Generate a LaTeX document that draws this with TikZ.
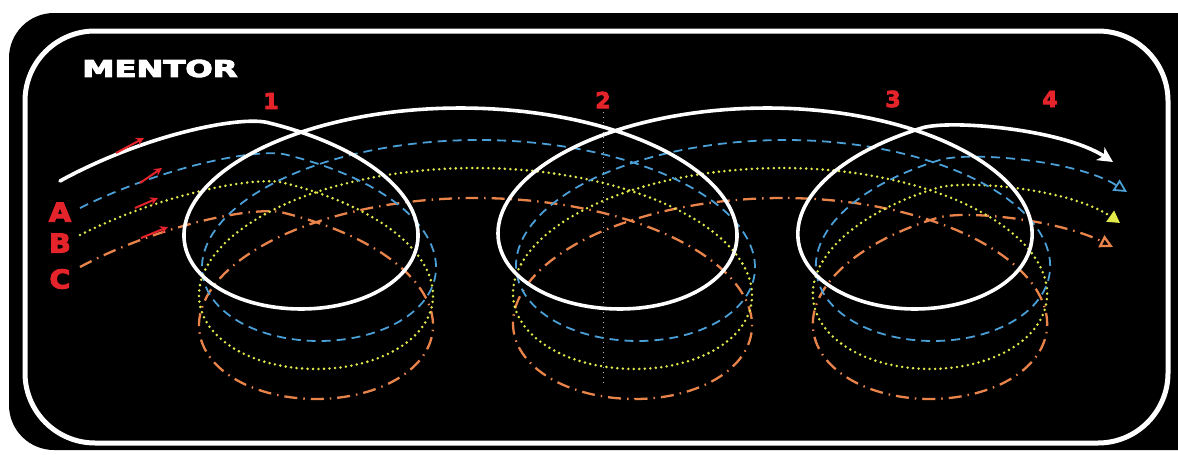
\documentclass[tikz,border=0pt]{standalone}
\usepackage{fontspec}
\newfontfamily\heavy{DejaVu Sans}[FakeBold=4]
\usetikzlibrary{arrows.meta}
\definecolor{cblue}{HTML}{4A9FD6}
\definecolor{cyellow}{HTML}{E2EA4A}
\definecolor{corange}{HTML}{E8834A}
\definecolor{cred}{HTML}{E5232B}
\tikzset{
  whitepath/.style={white, line width=3.6pt, line cap=round, -{Stealth[length=15pt,width=15pt,inset=4pt]}},
  apath/.style={cblue, line width=1.8pt, dash pattern=on 9pt off 6pt, -{Triangle[open,length=13pt,width=13pt]}},
  bpath/.style={cyellow, line width=2.8pt, line cap=round, dash pattern=on 0pt off 5.5pt, -{Triangle[length=12pt,width=13pt]}},
  cpath/.style={corange, line width=2.3pt, dash pattern=on 13pt off 6pt on 1.5pt off 6pt, -{Triangle[open,length=13pt,width=13pt]}},
  redarrow/.style={cred, line width=2pt, -{Stealth[length=8pt,width=8pt]}},
  redlabel/.style={cred, inner sep=0pt, font=\heavy\bfseries\fontsize{22}{22}\selectfont},
  letterlabel/.style={cred, inner sep=0pt, font=\heavy\bfseries\fontsize{26}{26}\selectfont},
  titlelabel/.style={white, inner sep=0pt, font=\heavy\bfseries\fontsize{23}{23}\selectfont}
}
\newcommand\spiral[5]{%
 \draw[#1, shift={#2}] #3 .. controls (142,136) and (236,116) .. (266.86,122.37)
  -- plot[domain=-148.97:0] ({301+50.8*rad(\t)-190*sin(\t)},{208.5+100.5*cos(\t)})
  -- plot[domain=0:180] ({301+50.8*rad(\t)-190*sin(\t)},{208.5+100.5*cos(\t)})
  -- plot[domain=-180:0] ({620+50.8*rad(\t)-190*sin(\t)},{208.5+100.5*cos(\t)})
  -- plot[domain=0:180] ({620+47*rad(\t)-190*sin(\t)},{208.5+100.5*cos(\t)})
  -- plot[domain=-180:0] ({915+47*rad(\t)-185*sin(\t)},{208.5+100.5*cos(\t)})
  -- plot[domain=0:143.24] ({915+47*rad(\t)-185*sin(\t)},{208.5+100.5*cos(\t)})
  .. controls (950.5,119.2) and #4 .. #5;}
\begin{document}
\begin{tikzpicture}[x=1pt,y=-1pt,variable=\t,samples=70]
\useasboundingbox (0,0) rectangle (1178,455);
\fill[white] (0,0) rectangle (1178,455);
\begin{scope}
\clip (0,0) rectangle (1178,455);
\fill[black, rounded corners=45pt] (9,13) rectangle (1240,450);
\end{scope}
\draw[white, line width=5pt, rounded corners=70pt] (25,31) rectangle (1168,443);
% faint centre mark
\draw[gray!55, line width=0.6pt, dash pattern=on 1pt off 4pt] (603,112) -- (603,385);
% paths
\spiral{cpath}{(15,90)}{(65,177)}{(1044.3,130.2)}{(1098,157)}
\spiral{bpath}{(15,60)}{(65,175)}{(1055.8,128.7)}{(1105,163)}
\spiral{apath}{(18,32)}{(62,176)}{(1058.3,127.9)}{(1109,160)}
\spiral{whitepath}{(0,0)}{(60,181)}{(1062.8,129.2)}{(1113,162)}
% red start arrows
\draw[redarrow] (116,153) -- (144,138);
\draw[redarrow] (140,183) -- (162,168);
\draw[redarrow] (135,208) -- (158,198);
\draw[redarrow] (141,238) -- (168,227);
% labels
\node[titlelabel] (mentor) at (160,68.5) {\scalebox{1.4}[1]{MENTOR}};
\node[redlabel] (n1) at (271,101) {1};
\node[redlabel] (n2) at (603,100) {2};
\node[redlabel] (n3) at (893,99) {3};
\node[redlabel] (n4) at (1050,99) {4};
\node[letterlabel] (la) at (60,212) {\scalebox{1.1}[1]{A}};
\node[letterlabel] (lb) at (60,243) {\scalebox{1.1}[1]{B}};
\node[letterlabel] (lc) at (60,279) {\scalebox{1.1}[1]{C}};
\end{tikzpicture}
\end{document}
